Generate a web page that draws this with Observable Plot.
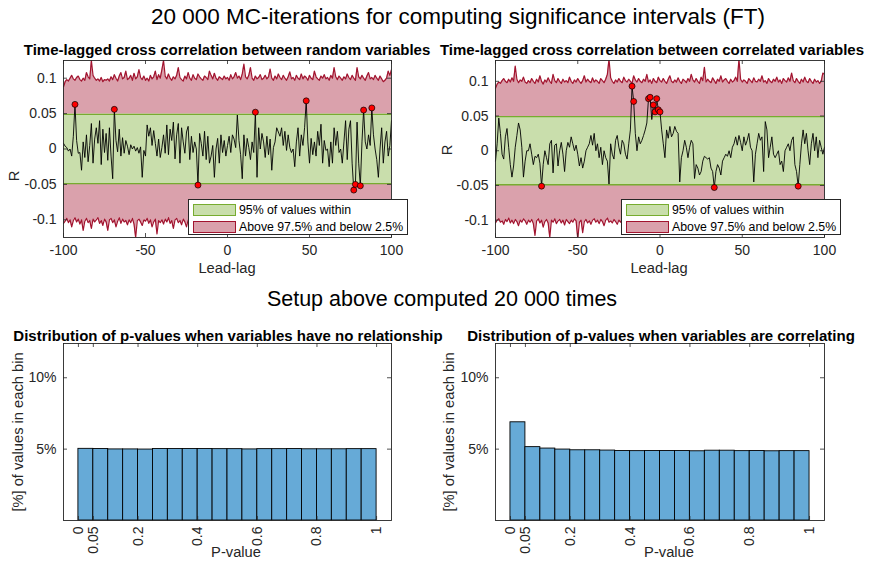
<!DOCTYPE html>
<html><head><meta charset="utf-8">
<script src="https://cdn.jsdelivr.net/npm/d3@7"></script>
<script src="https://cdn.jsdelivr.net/npm/@observablehq/plot@0.6"></script>
<style>
body{margin:0;background:#fff;font-family:"Liberation Sans",Arial,Helvetica,sans-serif;}
#fig{position:relative;width:872px;height:561px;overflow:hidden;background:#fff}
.t{position:absolute;white-space:nowrap;transform:translate(-50%,-50%);line-height:1}
.legend{position:absolute;background:#fff;border:1px solid #262626;box-sizing:border-box;font-size:12.3px;color:#000}
.legend .p{position:absolute;box-sizing:border-box}
.legend .lt{position:absolute;white-space:nowrap;transform:translateY(-50%);line-height:1}
</style></head><body><div id="fig"></div>
<script>
// ---------- DATA ----------
const lagFirst = -100, lagLast = 100;
const lagTicks = [-100, -50, 0, 50, 100];
const rTicks = [-0.1, -0.05, 0, 0.05, 0.1];
const greenBand = [-0.049, 0.049];

// R values (x 1e-3), lag -100 .. 100, random variables
const randR = [
 8,4,2,-3,0,-10,18,63,12,-6,
 -5,-30,10,-12,20,-18,5,36,-20,14,
 30,8,40,-22,28,-5,22,-16,30,-10,
 -42,56,12,-4,28,-10,16,-6,12,4,
 -8,6,0,4,-3,2,-6,3,-40,-2,
 -10,34,18,30,5,26,8,-10,14,-12,
 2,20,-6,34,-8,28,12,38,-14,20,
 36,-20,30,10,-6,24,32,-15,18,-5,
 10,0,-51,22,8,-10,25,-15,18,-20,
 -10,5,-40,0,15,-20,20,-5,12,-10,
 5,18,-5,20,14,2,48,12,-8,-42,
 20,-10,15,2,-15,10,-5,52,-40,30,
 0,22,10,-12,18,-8,14,-30,2,10,
 30,24,18,30,5,25,-2,20,2,-5,
 0,-25,10,30,-10,20,5,30,68,10,
 -20,15,-8,10,-10,25,5,35,-20,12,
 -2,0,-25,10,-20,30,5,25,-5,0,
 -20,10,40,-15,28,40,-20,-58,-50,38,
 -20,-52,10,55,10,0,20,5,58,20,
 0,-15,-40,0,30,-20,10,25,-10,5,40];
// 97.5% upper bound (x 1e-3)
const randUp = [
 88,95,98,96,100,104,99,97,101,103,
 98,96,100,97,108,102,99,125,104,100,
 97,99,96,101,95,98,97,99,96,102,
 98,105,100,96,103,108,99,101,110,98,
 100,104,97,107,99,102,112,101,98,103,
 97,100,96,104,99,102,110,98,105,100,
 112,125,103,99,106,100,97,102,99,104,
 115,101,98,96,103,99,108,100,97,105,
 100,98,106,102,99,97,103,101,98,110,
 104,99,107,100,97,102,100,98,103,99,
 101,97,105,99,102,108,100,103,98,106,
 120,102,99,104,115,100,97,103,99,101,
 105,98,100,104,99,102,113,100,97,103,
 99,106,101,98,104,100,97,102,109,99,
 101,97,104,100,98,106,99,103,101,97,
 104,100,98,110,102,99,97,103,100,105,
 99,101,97,104,100,115,102,98,103,100,
 97,102,99,106,101,98,104,100,97,115,
 102,99,104,100,97,103,108,99,101,98,
 104,100,97,103,99,95,97,100,110,104,112];
// 2.5% lower bound (x 1e-3)
const randLo = [
 -105,-102,-98,-104,-100,-110,-101,-97,-103,-99,
 -106,-100,-115,-102,-98,-104,-101,-112,-99,-103,
 -100,-97,-105,-101,-108,-99,-103,-115,-100,-98,
 -104,-100,-110,-102,-97,-105,-99,-103,-101,-107,
 -100,-104,-98,-106,-125,-101,-99,-103,-108,-100,
 -102,-98,-105,-100,-110,-103,-99,-120,-101,-104,
 -100,-106,-99,-103,-97,-105,-101,-112,-100,-98,
 -104,-101,-107,-99,-103,-110,-100,-97,-105,-102,
 -99,-104,-101,-106,-98,-103,-100,-108,-102,-99,
 -105,-101,-98,-104,-100,-107,-103,-99,-102,-110,
 -100,-104,-98,-103,-101,-106,-99,-102,-105,-100,
 -103,-99,-107,-101,-104,-98,-102,-110,-100,-103,
 -99,-105,-101,-104,-98,-102,-106,-100,-103,-99,
 -104,-101,-98,-105,-100,-103,-108,-99,-102,-104,
 -100,-97,-103,-101,-106,-99,-104,-100,-102,-98,
 -105,-101,-99,-104,-100,-107,-102,-98,-103,-101,
 -99,-104,-100,-106,-101,-98,-103,-100,-105,-102,
 -100,-103,-99,-104,-101,-106,-98,-102,-100,-104,
 -101,-99,-105,-100,-103,-98,-102,-107,-100,-104,
 -99,-102,-100,-105,-101,-98,-103,-100,-104,-99,-102];

// correlated variables
const corrR = [
 -15,10,47,25,-5,-12,20,32,5,-20,
 -38,-22,5,22,40,30,5,-38,-15,0,
 0,10,-5,-20,-8,-10,-5,-18,-51,-20,
 0,-10,-20,10,15,-32,8,10,-22,0,
 12,-5,-30,0,12,5,20,10,0,8,
 -5,-22,-10,-25,-15,0,5,10,22,8,
 25,0,10,-10,5,-20,0,-10,-15,-48,
 10,-5,-12,15,22,5,-5,15,10,-5,
 -12,10,30,93,71,25,0,20,10,15,
 22,30,40,75,77,45,66,56,75,59,
 56,30,10,-10,30,18,35,20,25,35,
 28,25,-45,-10,0,15,5,-10,5,15,
 10,-40,-20,-25,-35,-30,-15,-8,-10,-12,
 -10,-25,-30,-53,-30,-20,-25,-35,-15,-10,
 -5,-8,0,-10,5,10,20,8,22,12,
 0,20,8,15,25,5,0,-45,-5,10,
 25,15,20,-30,42,30,-10,5,20,-5,
 -10,-5,0,-20,-15,-30,0,5,10,0,
 15,20,-20,-30,-51,-20,10,30,10,25,
 0,-20,10,25,0,20,-10,15,5,-5,5];
const corrUp = [
 90,96,99,97,101,104,100,98,103,99,
 105,100,122,103,98,102,100,106,99,97,
 101,98,104,100,97,103,99,108,100,96,
 102,99,105,100,97,110,101,98,104,100,
 97,103,99,101,98,106,100,97,102,99,
 104,100,97,101,108,99,103,100,98,105,
 99,102,100,97,104,101,98,103,110,132,
 105,100,97,102,99,104,100,98,106,101,
 99,103,100,97,108,102,99,104,100,98,
 103,100,110,99,102,97,104,100,98,106,
 101,99,104,100,97,103,108,100,98,102,
 99,105,100,97,103,101,98,104,100,110,
 102,99,104,100,97,106,101,120,99,103,
 100,98,105,101,97,103,100,108,99,102,
 104,100,97,103,99,101,106,100,132,103,
 99,102,100,97,104,101,98,105,100,99,
 103,100,108,99,101,97,104,100,98,103,
 100,106,99,102,97,104,101,99,105,100,
 112,101,98,104,100,97,103,99,106,100,
 98,104,100,97,103,99,101,97,100,112,110];
const corrLo = [
 -104,-100,-98,-103,-101,-106,-99,-102,-97,-104,
 -100,-105,-99,-102,-108,-100,-103,-98,-101,-106,
 -100,-103,-99,-105,-122,-101,-98,-104,-100,-110,
 -102,-99,-104,-125,-100,-103,-98,-105,-101,-99,
 -104,-100,-107,-99,-102,-105,-100,-103,-98,-101,
 -127,-103,-100,-118,-102,-99,-104,-101,-106,-100,
 -98,-103,-100,-105,-99,-102,-108,-100,-97,-103,
 -101,-104,-99,-102,-106,-100,-103,-98,-105,-101,
 -99,-103,-100,-112,-104,-101,-98,-105,-100,-102,
 -104,-99,-102,-106,-100,-103,-101,-98,-104,-100,
 -102,-105,-99,-103,-100,-107,-101,-98,-104,-100,
 -103,-99,-106,-101,-98,-104,-100,-102,-108,-99,
 -101,-104,-100,-103,-98,-105,-101,-99,-104,-100,
 -102,-106,-99,-103,-100,-104,-101,-98,-105,-100,
 -103,-99,-101,-106,-100,-102,-98,-104,-101,-99,
 -104,-100,-103,-98,-105,-101,-99,-102,-107,-100,
 -101,-104,-99,-103,-100,-106,-102,-98,-104,-100,
 -103,-99,-101,-105,-100,-102,-98,-104,-101,-99,
 -104,-100,-102,-97,-105,-101,-99,-103,-100,-106,
 -101,-99,-104,-100,-102,-98,-105,-101,-99,-103,-100];

// histograms of p-values (% of values in each bin)
const binEdges = [0,0.05,0.1,0.15,0.2,0.25,0.3,0.35,0.4,0.45,0.5,0.55,0.6,0.65,0.7,0.75,0.8,0.85,0.9,0.95,1];
const pNoRel = [5.02,5.01,4.98,4.98,4.97,5.01,5.01,5.01,5.01,5.00,5.00,4.98,5.00,5.00,5.01,4.99,4.99,4.99,5.00,5.00];
const pCorr  = [6.88,5.14,5.04,4.97,4.92,4.92,4.90,4.87,4.86,4.87,4.87,4.87,4.85,4.89,4.89,4.86,4.87,4.85,4.86,4.86];
const pTicks = [0, 0.05, 0.2, 0.4, 0.6, 0.8, 1];
const pctTicks = [5, 10];

// ---------- STYLE ----------
const FONT = '"Liberation Sans",Arial,Helvetica,sans-serif';
const AX = "#262626";
const TICKFS = 14;
const redFill = "rgb(218,161,172)", redEdge = "#a2142f";
const greenFill = "rgb(201,222,172)", greenEdge = "#77ac30";
const barFill = "rgb(102,170,215)";

const fig = document.getElementById("fig");
function put(el, left, top){ el.style.position="absolute"; el.style.left=left+"px"; el.style.top=top+"px"; fig.appendChild(el); }
function txt(s, x, y, css, rot){
  const d = document.createElement("div"); d.className="t"; d.textContent=s;
  d.style.left=x+"px"; d.style.top=y+"px";
  Object.assign(d.style, css||{});
  if (rot) d.style.transform = "translate(-50%,-50%) rotate("+rot+"deg)";
  fig.appendChild(d); return d;
}

function boxTicks(xt, yt, W, H, mL, mR, mT, mB){
  const pw = W - mL - mR, ph = H - mT - mB, L = 4;
  return [
    Plot.tickX(xt, {x: d=>d, insetTop: ph - L, stroke: AX, strokeWidth: 0.8}),
    Plot.tickX(xt, {x: d=>d, insetBottom: ph - L, stroke: AX, strokeWidth: 0.8}),
    Plot.tickY(yt, {y: d=>d, insetRight: pw - L, stroke: AX, strokeWidth: 0.8}),
    Plot.tickY(yt, {y: d=>d, insetLeft: pw - L, stroke: AX, strokeWidth: 0.8}),
    Plot.frame({stroke: AX, strokeWidth: 0.9})
  ];
}

function ccf(R, up, lo, yDomain, mL, mR){
  const W=436, H=245, mT=20, mB=48;
  const lags = d3.range(lagFirst, lagLast + 1);
  const rows = lags.map((lag,i)=>({lag, r: R[i]/1000, up: up[i]/1000, lo: lo[i]/1000}));
  const sig = rows.filter(d => d.r > greenBand[1] || d.r < greenBand[0]);
  return Plot.plot({
    width: W, height: H, marginLeft: mL, marginRight: mR, marginTop: mT, marginBottom: mB,
    x: {domain: [lagFirst, lagLast]}, y: {domain: yDomain},
    style: {fontFamily: FONT, fontSize: TICKFS + "px", color: AX, background: "transparent", overflow: "visible"},
    marks: [
      Plot.areaY(rows, {x: "lag", y1: () => greenBand[1], y2: "up", fill: redFill, clip: true}),
      Plot.areaY(rows, {x: "lag", y1: "lo", y2: () => greenBand[0], fill: redFill, clip: true}),
      Plot.lineY(rows, {x: "lag", y: "up", stroke: redEdge, strokeWidth: 1.2, clip: true}),
      Plot.lineY(rows, {x: "lag", y: "lo", stroke: redEdge, strokeWidth: 1.2, clip: true}),
      Plot.areaY(rows, {x: "lag", y1: () => greenBand[0], y2: () => greenBand[1], fill: greenFill}),
      Plot.ruleY(greenBand, {stroke: greenEdge, strokeWidth: 1.3}),
      Plot.lineY(rows, {x: "lag", y: "r", stroke: "#000", strokeWidth: 0.9}),
      Plot.dot(sig, {x: "lag", y: "r", r: 3, fill: "#ff0000", stroke: "#000", strokeWidth: 0.7}),
      Plot.axisX(lagTicks, {tickSize: 0, tickPadding: 8, label: null, fontSize: TICKFS, tickFormat: d => String(d), fill: AX}),
      Plot.axisY(rTicks, {tickSize: 0, tickPadding: 7, label: null, fontSize: TICKFS, tickFormat: d => String(d), fill: AX}),
      ...boxTicks(lagTicks, rTicks, W, H, mL, mR, mT, mB)
    ]
  });
}

function hist(vals, mL, mR){
  const W=436, H=241, mT=23, mB=41;
  const bins = vals.map((v,i)=>({x0: binEdges[i], x1: binEdges[i+1], v}));
  return Plot.plot({
    width: W, height: H, marginLeft: mL, marginRight: mR, marginTop: mT, marginBottom: mB,
    x: {domain: [-0.05, 1.05]}, y: {domain: [0, 12.4]},
    style: {fontFamily: FONT, fontSize: TICKFS + "px", color: AX, background: "transparent", overflow: "visible"},
    marks: [
      Plot.rectY(bins, {x1: "x0", x2: "x1", y: "v", fill: barFill, stroke: "#000", strokeWidth: 0.9}),
      Plot.axisX(pTicks, {tickSize: 0, tickPadding: 6, tickRotate: -90, label: null, fontSize: TICKFS, tickFormat: d => String(d), fill: AX}),
      Plot.axisY(pctTicks, {tickSize: 0, tickPadding: 7, label: null, fontSize: TICKFS, tickFormat: d => d + "%", fill: AX}),
      ...boxTicks(pTicks, pctTicks, W, H, mL, mR, mT, mB)
    ]
  });
}

put(ccf(randR, randUp, randLo, [-0.125, 0.125], 63, 45), 0, 40);
put(ccf(corrR, corrUp, corrLo, [-0.125, 0.13], 59, 48), 436, 40);
put(hist(pNoRel, 63, 45), 0, 320);
put(hist(pCorr, 59, 48), 436, 320);

function legend(left, top){
  const lg = document.createElement("div"); lg.className="legend";
  Object.assign(lg.style, {left: left+"px", top: top+"px", width: "220px", height: "36px"});
  const rows = [
    {label: "95% of values within", fill: greenFill, edge: greenEdge, y: 4, h: 12, c: 10},
    {label: "Above 97.5% and below 2.5%", fill: redFill, edge: redEdge, y: 20.5, h: 12.5, c: 26.5}
  ];
  rows.forEach(r=>{
    const p = document.createElement("div"); p.className="p";
    Object.assign(p.style, {left:"4px", top: r.y+"px", width:"43px", height: r.h+"px", background: r.fill, border: "1.3px solid "+r.edge});
    lg.appendChild(p);
    const t = document.createElement("div"); t.className="lt"; t.textContent = r.label;
    Object.assign(t.style, {left: "50px", top: r.c+"px"});
    lg.appendChild(t);
  });
  fig.appendChild(lg);
}
legend(188, 199);
legend(621, 199);

// titles & labels
txt("20 000 MC-iterations for computing significance intervals (FT)", 458, 17, {fontSize: "22.5px", color: "#000"});
txt("Setup above computed 20 000 times", 442, 300, {fontSize: "21.5px", color: "#000"});
const tcss = {fontSize: "15px", fontWeight: "bold", color: "#000"};
txt("Time-lagged cross correlation between random variables", 227, 49, tcss);
txt("Time-lagged cross correlation between correlated variables", 652, 49, tcss);
txt("Distribution of p-values when variables have no relationship", 228, 335, tcss);
txt("Distribution of p-values when variables are correlating", 661, 335, tcss);
const lcss = {fontSize: "14.7px", color: AX};
txt("Lead-lag", 227, 268, lcss);
txt("Lead-lag", 659, 268, lcss);
txt("R", 14, 176, lcss, -90);
txt("R", 447, 150, lcss, -90);
txt("P-value", 236, 552, lcss);
txt("P-value", 669, 552, lcss);
txt("[%] of values in each bin", 18, 432, lcss, -90);
txt("[%] of values in each bin", 449, 432, lcss, -90);
</script></body></html>
